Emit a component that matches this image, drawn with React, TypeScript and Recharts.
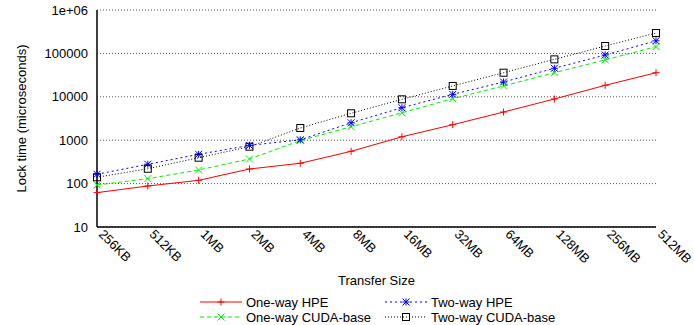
import React from 'react';
import { LineChart, Line, XAxis, YAxis, CartesianGrid } from 'recharts';

const sizes = ['256KB', '512KB', '1MB', '2MB', '4MB', '8MB', '16MB', '32MB', '64MB', '128MB', '256MB', '512MB'];
const oneWayHPE = [62, 88, 119, 217, 294, 555, 1200, 2275, 4460, 8900, 18400, 35900];
const oneWayCUDA = [93, 130, 206, 369, 980, 2040, 4290, 9040, 17800, 35900, 70900, 143000];
const twoWayHPE = [164, 279, 473, 760, 1020, 2520, 5600, 11400, 21900, 45400, 91800, 195000];
const twoWayCUDA = [140, 220, 395, 708, 1910, 4170, 8750, 17800, 35900, 72900, 148000, 295000];

const majorTicks = [10, 100, 1000, 10000, 100000, 1000000];
const minorTicks = [20, 50, 200, 500, 2000, 5000, 20000, 50000, 200000, 500000];

const seriesNames = ['One-way HPE', 'One-way CUDA-base', 'Two-way HPE', 'Two-way CUDA-base'];

const data = sizes.map((size, i) => ({
  size,
  oneWayHPE: oneWayHPE[i],
  oneWayCUDA: oneWayCUDA[i],
  twoWayHPE: twoWayHPE[i],
  twoWayCUDA: twoWayCUDA[i],
}));

const FONT = '"Liberation Sans", Arial, Helvetica, sans-serif';

type Marker = 'plus' | 'cross' | 'star' | 'square';

const series: { key: string; name: string; color: string; dash?: string; marker: Marker }[] = [
  { key: 'oneWayHPE', name: seriesNames[0], color: '#ff0000', marker: 'plus' },
  { key: 'oneWayCUDA', name: seriesNames[1], color: '#00ee00', dash: '4 3', marker: 'cross' },
  { key: 'twoWayHPE', name: seriesNames[2], color: '#0000ff', dash: '2 3', marker: 'star' },
  { key: 'twoWayCUDA', name: seriesNames[3], color: '#000000', dash: '1 2', marker: 'square' },
];

function drawMarker(marker: Marker, cx: number, cy: number, color: string, key?: string) {
  const h = 3.5;
  if (marker === 'plus') {
    return (
      <g key={key}>
        <line x1={cx - h} y1={cy} x2={cx + h} y2={cy} stroke={color} strokeWidth={1} />
        <line x1={cx} y1={cy - h} x2={cx} y2={cy + h} stroke={color} strokeWidth={1} />
      </g>
    );
  }
  if (marker === 'cross') {
    return (
      <g key={key}>
        <line x1={cx - h} y1={cy - h} x2={cx + h} y2={cy + h} stroke={color} strokeWidth={1} />
        <line x1={cx - h} y1={cy + h} x2={cx + h} y2={cy - h} stroke={color} strokeWidth={1} />
      </g>
    );
  }
  if (marker === 'star') {
    return (
      <g key={key}>
        <line x1={cx - h} y1={cy} x2={cx + h} y2={cy} stroke={color} strokeWidth={1} />
        <line x1={cx} y1={cy - h} x2={cx} y2={cy + h} stroke={color} strokeWidth={1} />
        <line x1={cx - h} y1={cy - h} x2={cx + h} y2={cy + h} stroke={color} strokeWidth={1} />
        <line x1={cx - h} y1={cy + h} x2={cx + h} y2={cy - h} stroke={color} strokeWidth={1} />
      </g>
    );
  }
  return (
    <rect key={key} x={cx - h} y={cy - h} width={2 * h} height={2 * h} fill="none" stroke={color} strokeWidth={1} />
  );
}

const makeDot = (marker: Marker, color: string) => (props: any) => {
  const { cx, cy, index } = props;
  if (cx == null || cy == null) return <g key={`e-${index}`} />;
  return drawMarker(marker, cx, cy, color, `m-${marker}-${index}`);
};

const XTick = (props: any) => {
  const { x, y, payload } = props;
  return (
    <text
      x={x + 1}
      y={y}
      transform={`rotate(45 ${x + 1} ${y})`}
      textAnchor="start"
      fontSize={13}
      fontFamily={FONT}
      fill="#000"
    >
      {payload.value}
    </text>
  );
};

const fmtY = (v: number) => (v >= 1000000 ? '1e+06' : String(v));
const allTicks = [...majorTicks, ...minorTicks];

export default function App() {
  const legendCols = [200, 385];
  const legendRows = [302, 317];
  return (
    <div style={{ position: 'absolute', left: 0, top: 0, width: 694, height: 325, background: '#fff' }}>
      <LineChart width={694} height={325} data={data} margin={{ top: 10, right: 38, bottom: 0, left: 0 }}>
        <CartesianGrid vertical={false} stroke="#555" strokeDasharray="1 2" />
        <XAxis
          dataKey="size"
          scale="point"
          height={98}
          interval={0}
          tickLine={false}
          tick={<XTick />}
          axisLine={{ stroke: '#000', strokeWidth: 1.5 }}
          label={{ value: 'Transfer Size', position: 'center', dy: 4, fontSize: 13, fontFamily: FONT, fill: '#000' }}
        />
        <XAxis
          xAxisId="top"
          dataKey="size"
          scale="point"
          orientation="top"
          height={0}
          tick={false}
          tickLine={false}
          axisLine={{ stroke: '#000', strokeWidth: 1.5 }}
        />
        <YAxis
          scale="log"
          domain={[10, 1000000]}
          allowDataOverflow
          ticks={majorTicks}
          interval={0}
          width={97}
          tickLine={false}
          tickSize={6}
          tickMargin={3}
          tickFormatter={fmtY}
          tick={{ fontSize: 13, fontFamily: FONT, fill: '#000' }}
          axisLine={{ stroke: '#000', strokeWidth: 1.5 }}
          label={{ value: 'Lock time (microseconds)', angle: -90, position: 'center', dx: -27, fontSize: 13, fontFamily: FONT, fill: '#000' }}
        />
        <YAxis
          yAxisId="tl"
          orientation="left"
          mirror
          width={0}
          scale="log"
          domain={[10, 1000000]}
          allowDataOverflow
          ticks={allTicks}
          interval={0}
          tickSize={4}
          tickLine={{ stroke: '#000' }}
          tickFormatter={() => ''}
          axisLine={false}
        />
        <YAxis
          yAxisId="tr"
          orientation="right"
          mirror
          width={0}
          scale="log"
          domain={[10, 1000000]}
          allowDataOverflow
          ticks={allTicks}
          interval={0}
          tickSize={4}
          tickLine={{ stroke: '#000' }}
          tickFormatter={() => ''}
          axisLine={{ stroke: '#000', strokeWidth: 1.5 }}
        />
        {series.map((s) => (
          <Line
            key={s.key}
            dataKey={s.key}
            name={s.name}
            type="linear"
            stroke={s.color}
            strokeWidth={1}
            strokeDasharray={s.dash}
            dot={makeDot(s.marker, s.color)}
            activeDot={false}
            isAnimationActive={false}
          />
        ))}
      </LineChart>
      <svg width={694} height={325} style={{ position: 'absolute', left: 0, top: 0, pointerEvents: 'none' }}>
        {series.map((s, i) => {
          const col = Math.floor(i / 2);
          const row = i % 2;
          const x0 = legendCols[col];
          const y0 = legendRows[row];
          return (
            <g key={s.key}>
              <line x1={x0} y1={y0} x2={x0 + 42} y2={y0} stroke={s.color} strokeWidth={1} strokeDasharray={s.dash} />
              {drawMarker(s.marker, x0 + 21, y0, s.color)}
              <text x={x0 + 46} y={y0 + 4.5} fontSize={13} fontFamily={FONT} fill="#000">
                {s.name}
              </text>
            </g>
          );
        })}
      </svg>
    </div>
  );
}
